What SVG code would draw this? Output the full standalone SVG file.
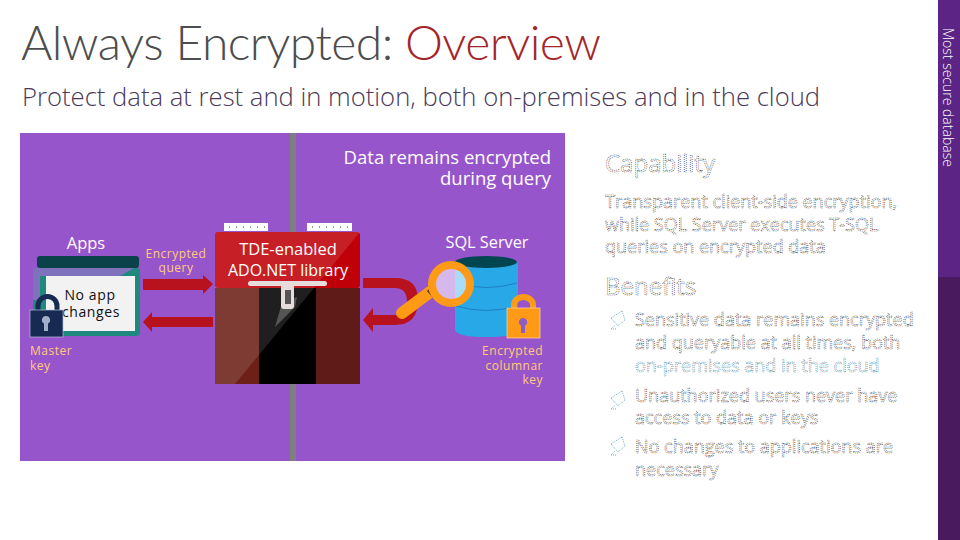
<svg xmlns="http://www.w3.org/2000/svg" width="960" height="540" viewBox="0 0 960 540">
<style>
.t{font-family:"Open Sans","Noto Sans",sans-serif}
.w{fill:#fff;font-size:18.500px}
.o{fill:#ffcb78;font-size:12px;letter-spacing:.5px}
.g{fill:#fff;stroke:#2b2b2b;stroke-width:.6;stroke-dasharray:1 1;font-size:18px}
.h{font-size:24px}
.r{fill:#b8121f}
</style>
<rect width="960" height="540" fill="#fff"/>
<g id="title"><text x="21" y="60" font-family="Lato,'Open Sans',sans-serif" font-size="48" font-weight="300" letter-spacing="-.55" fill="#4d4d4d">Always Encrypted: <tspan fill="#a4262c">Overview</tspan></text>
<text class="t" x="22" y="106" font-size="25.650" font-weight="300" fill="#4a3a58">Protect data at rest and in motion, both on-premises and in the cloud</text></g>
<g id="sidebar"><rect x="938" y="0" width="22" height="277" fill="#5c2484"/><rect x="938" y="277" width="22" height="263" fill="#4a1a5e"/><text class="t" transform="translate(943,28) rotate(90)" font-size="14" font-weight="300" fill="#fff">Most secure database</text></g>
<g id="panel"><rect x="20" y="133" width="545" height="328" fill="#9755cb"/><rect x="290" y="133" width="6" height="328" fill="#7f7f7f"/>
<text class="t w" x="551" y="164" text-anchor="end">Data remains encrypted</text><text class="t w" x="551" y="185" text-anchor="end">during query</text></g>
<g id="connectors">
<path class="r" d="M143 279H203V275L213 284 203 294V290H143Z"/>
<path class="r" d="M213 317H152V312L143 322 152 332V327H213Z"/>
<path class="r" d="M363 278H395Q418 278 418 300Q418 325 395 325H373V332L363 320 373 308V315H395Q407 315 407 302Q407 288 395 288H363Z"/>
</g>
<g id="apps"><text class="t w" x="86" y="249" text-anchor="middle" style="font-size:16.500px">Apps</text>
<rect x="37" y="256" width="102" height="12" rx="3" fill="#0b4148"/><rect x="33" y="268" width="107" height="68" rx="4" fill="#1e8a7e"/><path d="M33 268H134L120 276H40V300H33Z" fill="#7f72bc"/><rect x="46" y="276" width="89" height="55" fill="#f2f2f2"/>
<text class="t" x="90" y="300" text-anchor="middle" font-size="14" fill="#111" letter-spacing=".6">No app</text><text class="t" x="91" y="317" text-anchor="middle" font-size="14" fill="#111" letter-spacing=".6">changes</text></g>
<g id="master-key"><path d="M38 313V306A9.500 9.500 0 0 1 57 306V313" fill="none" stroke="#162a52" stroke-width="5"/><rect x="30" y="310" width="33" height="27" fill="#162a52" stroke="#b8bfe0" stroke-width=".7"/><path d="M46 316a4 4 0 0 1 2 7.500V331H44V323.500A4 4 0 0 1 46 316Z" fill="#9fb0c8"/>
<text class="t o" x="30" y="355">Master</text><text class="t o" x="30" y="370">key</text></g>
<text class="t o" x="176" y="258" text-anchor="middle">Encrypted</text><text class="t o" x="176" y="272" text-anchor="middle">query</text>
<g id="ado"><rect x="224" y="223" width="44" height="8" fill="#fff"/><rect x="307" y="223" width="45" height="8" fill="#fff"/>
<path d="M229 227H265M312 227H349" stroke="#999" stroke-width="2" stroke-dasharray="1 6"/>
<rect x="215" y="232" width="145" height="56" rx="3" fill="#c00008"/><rect x="215" y="288" width="44" height="96" fill="#6c2018"/><rect x="259" y="288" width="57" height="96" fill="#000"/><rect x="316" y="288" width="44" height="96" fill="#5e1b17"/>
<path d="M215 235Q215 232 218 232H360L235 384H215Z" fill="#fff" opacity=".12"/>
<path d="M282 303 297 297 295 307 275 327Z" fill="#555"/>
<rect x="248" y="281" width="79" height="5" rx="2.500" fill="#e6dcdc"/><rect x="281" y="283" width="13" height="26" rx="3" fill="#e6dcdc"/><rect x="285" y="290" width="6" height="14" fill="#555"/>
<text class="t" x="288" y="255" text-anchor="middle" font-size="16.500" fill="#fff">TDE-enabled</text><text class="t" x="288" y="276" text-anchor="middle" font-size="16" fill="#fff">ADO.NET library</text></g>
<g id="sql"><text class="t w" x="487" y="248" text-anchor="middle" style="font-size:16.300px">SQL Server</text>
<path d="M455 262H518V329Q518 337 486 337Q455 337 455 329Z" fill="#29a8e8"/><ellipse cx="486" cy="262" rx="31" ry="6" fill="#004650"/>
<path d="M456 283Q486 292 517 283M456 306Q486 315 517 306" fill="none" stroke="#1d7fc0"/>
<path d="M402 313 430 292" stroke="#ff9a16" stroke-width="12" stroke-linecap="round"/><path d="M428 290 436 299" stroke="#5a3a20" stroke-width="3"/>
<circle cx="451" cy="284" r="19" fill="#d6b8ec" stroke="#ff9a16" stroke-width="8"/><path d="M455 269.500A15 15 0 0 1 455 298.500Z" fill="#a8dcf8"/>
<path d="M514 312V305A9.500 8 0 0 1 533 305V312" fill="none" stroke="#ff9a16" stroke-width="6"/><rect x="507" y="308" width="33" height="30" fill="#ff9a16" stroke="#ffd8a0" stroke-width=".7"/><path d="M523 318a4 4 0 0 1 2 7.500V333H521V325.500a4 4 0 0 1 2-7.500Z" fill="#8c5cc8"/>
<text class="t o" x="543" y="355" text-anchor="end">Encrypted</text><text class="t o" x="543" y="370" text-anchor="end">columnar</text><text class="t o" x="543" y="384" text-anchor="end">key</text></g>
<g id="text">
<text class="t g h" x="605" y="172">Capability</text>
<text class="t g" x="605" y="208">Transparent client-side encryption,</text>
<text class="t g" x="605" y="231">while SQL Server executes T-SQL</text>
<text class="t g" x="605" y="253">queries on encrypted data</text>
<text class="t g h" x="605" y="295">Benefits</text>
<text class="t g" x="635" y="326">Sensitive data remains encrypted</text>
<text class="t g" x="635" y="349">and queryable at all times, both</text>
<text class="t g" x="635" y="372" style="stroke:#1f7898">on-premises and in the cloud</text>
<text class="t g" x="635" y="402">Unauthorized users never have</text>
<text class="t g" x="635" y="424">access to data or keys</text>
<text class="t g" x="635" y="453">No changes to applications are</text>
<text class="t g" x="635" y="476">necessary</text>
<path d="M611 318 622 311M611 318 618 326M622 311 625 320 618 326M611 329 615 325M611 329 617 329M611 398 622 391M611 398 618 406M622 391 625 400 618 406M611 409 615 405M611 409 617 409M611 444 622 437M611 444 618 452M622 437 625 446 618 452M611 455 615 451M611 455 617 455" fill="none" stroke="#3f8fa8" stroke-width=".7" stroke-dasharray="1 1"/>
</g>
</svg>
